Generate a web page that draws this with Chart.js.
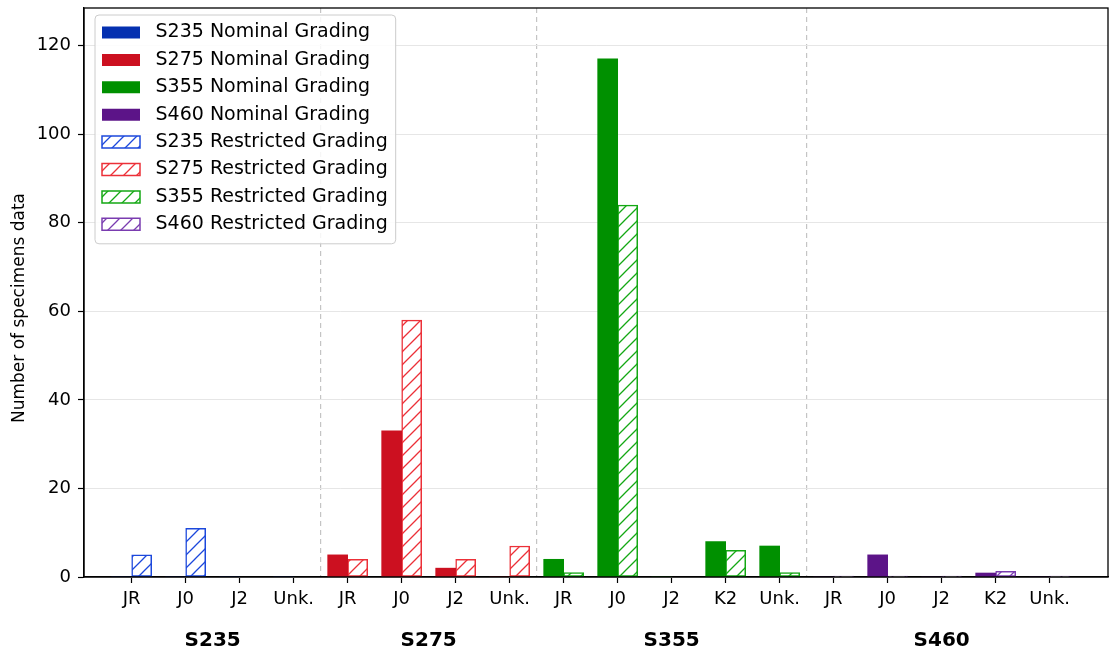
<!DOCTYPE html>
<html><head><meta charset="utf-8">
<script src="https://cdn.jsdelivr.net/npm/chart.js@4.4.1/dist/chart.umd.min.js"></script>
<style>html,body{margin:0;padding:0;background:#fff;} #wrap{width:1110px;height:655px;}</style>
</head><body><div id="wrap"><canvas id="c" width="1110" height="655"></canvas></div>
<script>
// ---- data ----
const groups = ['S235', 'S275', 'S355', 'S460'];
const gradesS235 = ['JR', 'J0', 'J2', 'Unk.'];
const gradesS275 = ['JR', 'J0', 'J2', 'Unk.'];
const gradesS355 = ['JR', 'J0', 'J2', 'K2', 'Unk.'];
const gradesS460 = ['JR', 'J0', 'J2', 'K2', 'Unk.'];
const nominalS235 = [0, 0, 0, 0];
const restrictedS235 = [5, 11, 0, 0];
const nominalS275 = [5, 33, 2, 0];
const restrictedS275 = [4, 58, 4, 7];
const nominalS355 = [4, 117, 0, 8, 7];
const restrictedS355 = [1, 84, 0, 6, 1];
const nominalS460 = [0, 5, 0, 0.9, 0];
const restrictedS460 = [0.2, 0.2, 0.2, 1.3, 0.2];
const yTicks = [0, 20, 40, 60, 80, 100, 120];
const yMax = 128.5;
const yTitle = 'Number of specimens data';

// ---- styles ----
const nominalColors = ['#0530b0', '#cc1020', '#009000', '#5c1488'];
const restrictedColors = ['#1c48dc', '#ec3038', '#14a814', '#7a3cb0'];
const FONT = 'DejaVu Sans';
Chart.defaults.font.family = FONT;

const gradeLists = [gradesS235, gradesS275, gradesS355, gradesS460];
const nominalLists = [nominalS235, nominalS275, nominalS355, nominalS460];
const restrictedLists = [restrictedS235, restrictedS275, restrictedS355, restrictedS460];
const allGrades = gradeLists.flat();
const groupStart = [];
let acc = 0;
gradeLists.forEach(g => { groupStart.push(acc); acc += g.length; });
const groupCenters = gradeLists.map((g, i) => groupStart[i] + (g.length - 1) / 2);
const separators = groupStart.slice(1).map(s => s - 0.5);
const xMin = -0.883, xMax = 18.08;

function seriesFor(gi, lists) {
  return allGrades.map((_, i) => {
    const local = i - groupStart[gi];
    const inGroup = local >= 0 && local < gradeLists[gi].length;
    return { x: i, y: inGroup ? lists[gi][local] : null };
  });
}

function hatch(color) {
  const s = 13;
  const c = document.createElement('canvas');
  c.width = s; c.height = s;
  const x = c.getContext('2d');
  x.fillStyle = '#fff'; x.fillRect(0, 0, s, s);
  x.strokeStyle = color; x.lineWidth = 1.3;
  x.beginPath();
  x.moveTo(-2, 2); x.lineTo(2, -2);
  x.moveTo(0, s); x.lineTo(s, 0);
  x.moveTo(s - 2, s + 2); x.lineTo(s + 2, s - 2);
  x.stroke();
  return x.createPattern(c, 'repeat');
}

const datasets = [];
groups.forEach((g, gi) => datasets.push({
  label: g + ' Nominal Grading', data: seriesFor(gi, nominalLists),
  backgroundColor: nominalColors[gi], borderWidth: 0,
  xAxisID: 'x', yAxisID: 'y', barThickness: 20, skipNull: true, borderSkipped: false
}));
groups.forEach((g, gi) => datasets.push({
  label: g + ' Restricted Grading', data: seriesFor(gi, restrictedLists),
  backgroundColor: hatch(restrictedColors[gi]), borderColor: restrictedColors[gi], borderWidth: 1.5,
  xAxisID: 'x', yAxisID: 'y', barThickness: 20, skipNull: true, borderSkipped: false
}));

function drawFrame(chart, lg) {
  const hb = lg.legendHitBoxes;
  if (!hb || !hb.length) return;
  let l = Infinity, t = Infinity, r = -Infinity, b = -Infinity;
  hb.forEach(h => { l = Math.min(l, h.left); t = Math.min(t, h.top); r = Math.max(r, h.left + h.width); b = Math.max(b, h.top + h.height); });
  const L = l - 7, T = t - 8, R = r + 8, B = b + 10, rad = 4;
  const c = chart.ctx;
  c.save();
  c.beginPath();
  c.moveTo(L + rad, T); c.lineTo(R - rad, T); c.quadraticCurveTo(R, T, R, T + rad);
  c.lineTo(R, B - rad); c.quadraticCurveTo(R, B, R - rad, B);
  c.lineTo(L + rad, B); c.quadraticCurveTo(L, B, L, B - rad);
  c.lineTo(L, T + rad); c.quadraticCurveTo(L, T, L + rad, T);
  c.closePath();
  c.fillStyle = 'rgba(255,255,255,0.85)'; c.fill();
  c.strokeStyle = '#cccccc'; c.lineWidth = 1; c.stroke();
  c.restore();
}

const legendBoxPlugin = {
  id: 'legendBox',
  afterLayout(chart) {
    const lg = chart.legend; if (!lg) return;
    const h = lg.bottom - lg.top, w = lg.right - lg.left;
    lg.left = chart.chartArea.left + 9.6; lg.right = lg.left + w;
    lg.top = chart.chartArea.top + 6.6; lg.bottom = lg.top + h;
  },
  beforeDraw(chart) {
    const lg = chart.legend;
    if (lg && !lg.__wrapped) {
      const orig = lg.draw;
      lg.draw = function (...a) { drawFrame(chart, this); return orig.apply(this, a); };
      lg.__wrapped = true;
    }
  }
};

const spinePlugin = {
  id: 'spines',
  afterDraw(chart) {
    const a = chart.chartArea, c = chart.ctx;
    c.save(); c.strokeStyle = '#000'; c.lineWidth = 1.3;
    c.strokeRect(a.left, a.top, a.right - a.left, a.bottom - a.top);
    // y-axis title
    c.translate(20, 308); c.rotate(-Math.PI / 2);
    c.fillStyle = '#000'; c.font = '17px "DejaVu Sans"';
    c.textAlign = 'center'; c.textBaseline = 'middle';
    c.fillText(yTitle, 0, 0);
    c.restore();
  }
};

new Chart(document.getElementById('c').getContext('2d'), {
  type: 'bar',
  data: { datasets },
  options: {
    responsive: false, animation: false,
    layout: { padding: { top: 8, right: 2, left: 0, bottom: 0 } },
    plugins: {
      tooltip: { enabled: false },
      legend: {
        position: 'chartArea', align: 'start',
        labels: {
          boxWidth: 38, boxHeight: 12, padding: 8.4, color: '#000',
          font: { family: FONT, size: 19 },
          generateLabels(chart) {
            return Chart.defaults.plugins.legend.labels.generateLabels(chart).map(it => { it.text = ' ' + it.text; return it; });
          }
        }
      }
    },
    scales: {
      x: {
        type: 'linear', position: 'bottom', weight: 0, min: xMin, max: xMax, offset: false,
        afterBuildTicks(s) { s.ticks = allGrades.map((_, i) => ({ value: i })); },
        afterFit(s) { s.height = 40; s.paddingLeft = 0; s.paddingRight = 0; },
        ticks: { callback: (v) => allGrades[Math.round(v)], color: '#000', font: { family: FONT, size: 18 }, padding: 6, autoSkip: false, maxRotation: 0 },
        grid: { offset: false, drawOnChartArea: false, drawTicks: true, tickLength: 6, tickColor: '#000', tickWidth: 1.2 },
        border: { color: '#000', width: 1.3 }
      },
      xg: {
        type: 'linear', position: 'bottom', weight: 1, min: xMin, max: xMax, offset: false,
        afterBuildTicks(s) { s.ticks = groupCenters.map(v => ({ value: v })); },
        afterFit(s) { s.height = 38; s.paddingLeft = 0; s.paddingRight = 0; },
        ticks: { callback: (v, i) => groups[i], color: '#000', font: { family: FONT, size: 20, weight: 'bold' }, padding: 12, autoSkip: false, maxRotation: 0 },
        grid: { offset: false, display: false, drawTicks: false },
        border: { display: false }
      },
      xs: {
        type: 'linear', position: 'bottom', weight: 2, min: xMin, max: xMax, offset: false,
        afterBuildTicks(s) { s.ticks = separators.map(v => ({ value: v })); },
        afterFit(s) { s.height = 0; s.paddingLeft = 0; s.paddingRight = 0; },
        ticks: { display: false },
        grid: { offset: false, color: '#c4c4c4', lineWidth: 1.2, drawTicks: false, drawOnChartArea: true },
        border: { display: false, dash: [5, 4] }
      },
      y: {
        type: 'linear', position: 'left', min: 0, max: yMax,
        afterBuildTicks(s) { s.ticks = yTicks.map(v => ({ value: v })); },
        afterFit(s) { s.width = 84; s.paddingTop = 0; s.paddingBottom = 0; },
        ticks: { color: '#000', font: { family: FONT, size: 18 }, padding: 7 },
        grid: { color: '#e6e6e6', lineWidth: 1, tickColor: '#000', tickLength: 6, tickWidth: 1.2 },
        border: { color: '#000', width: 1.3 }
      }
    }
  },
  plugins: [legendBoxPlugin, spinePlugin]
});
</script>
</body></html>
